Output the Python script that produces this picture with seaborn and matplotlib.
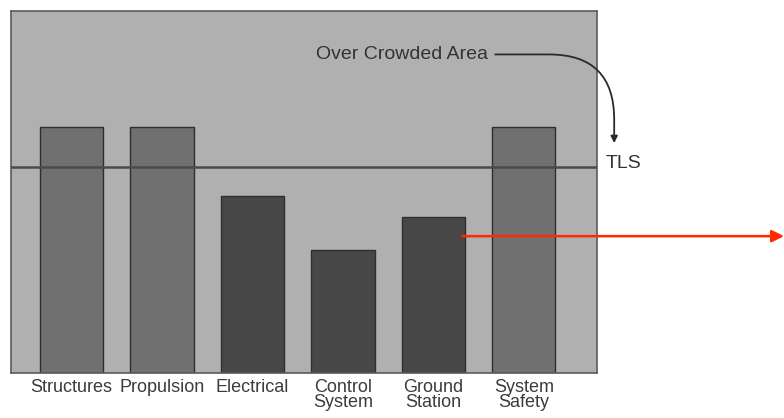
import matplotlib
matplotlib.use("Agg")
import matplotlib.pyplot as plt
import seaborn as sns
import pandas as pd

# Subsystem loads against the target level of safety (TLS)
categories = ["Structures", "Propulsion", "Electrical", "Control\nSystem", "Ground\nStation", "System\nSafety"]
values = [68, 68, 49, 34, 43, 68]
tls_level = 57
bar_colors = ["#707070", "#707070", "#474747", "#474747", "#474747", "#707070"]

sns.set_theme(style="white")
plt.rcParams["font.family"] = ["Liberation Sans", "DejaVu Sans"]

df = pd.DataFrame({"subsystem": categories, "load": values})

fig = plt.figure(figsize=(7.84, 4.18), dpi=100)
ax = fig.add_axes([11 / 784, 1 - 373 / 418, 586 / 784, 362 / 418])
ax.set_facecolor("#b0b0b0")

sns.barplot(data=df, x="subsystem", y="load", hue="subsystem",
            palette=bar_colors, width=0.7, edgecolor="#2e2e2e",
            linewidth=1.0, saturation=1, legend=False, ax=ax)

ax.set_xlim(-0.67, 5.81)
ax.set_ylim(0, 100)
ax.set_xlabel("")
ax.set_ylabel("")
ax.set_yticks([])
ax.tick_params(axis="x", length=0, pad=4, labelsize=13, labelcolor="#3c3c3c")
for lab in ax.get_xticklabels():
    lab.set_linespacing(0.85)

for side in ax.spines.values():
    side.set_visible(True)
    side.set_color("#5a5a5a")
    side.set_linewidth(1.2)

# TLS threshold line
ax.axhline(tls_level, color="#4a4a4a", lw=1.8, zorder=5)
ax.text(5.9, tls_level + 1, "TLS", ha="left", va="center", fontsize=14,
        color="#333333", clip_on=False)

# Over-crowded area callout
ax.annotate("Over Crowded Area", xy=(6.0, 63.5), xytext=(2.7, 88),
            textcoords="data", fontsize=14, color="#333333",
            ha="left", va="center", annotation_clip=False,
            arrowprops=dict(arrowstyle="-|>", color="#2a2a2a", lw=1.3,
                            mutation_scale=10, shrinkA=3, shrinkB=0,
                            connectionstyle="angle,angleA=0,angleB=90,rad=65"))

# Pointer from the Ground Station bar
ax.annotate("", xy=(1.0, 37.8), xycoords=("figure fraction", "data"),
            xytext=(4.32, 37.8), textcoords="data", annotation_clip=False,
            arrowprops=dict(arrowstyle="-|>", color="#ff2a00", lw=1.8,
                            mutation_scale=18, shrinkA=0, shrinkB=0))

fig.savefig("out.png", dpi=100, facecolor="white")
